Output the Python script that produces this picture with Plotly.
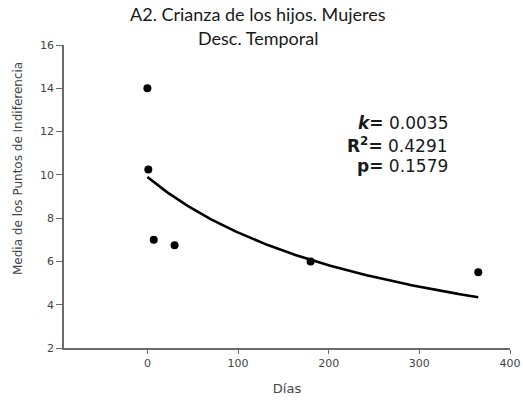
import numpy as np
import plotly.graph_objects as go

# Delay (days) and mean indifference point at each delay
dias = [0, 1, 7, 30, 180, 365]
media = [14.0, 10.25, 7.0, 6.75, 6.0, 5.5]

# Hyperbolic discounting fit: V = A / (1 + k*D)
k_fit = 0.0035
a_fit = 9.9
r2_fit = 0.4291
p_fit = 0.1579

x_ticks = [0, 100, 200, 300, 400]
y_ticks = [2, 4, 6, 8, 10, 12, 14, 16]

titulo = ["A2. Crianza de los hijos. Mujeres", "Desc. Temporal"]

d_curve = np.linspace(0, 365, 200)
v_curve = a_fit / (1 + k_fit * d_curve)

# Plot-area geometry in page pixels
PL, PR, PT, PB = 64, 510, 45, 348


def px_to_paper(xpx, ypx):
    return (xpx - PL) / (PR - PL), (PB - ypx) / (PB - PT)


axis_col = "#6a6a6a"
tick_font = dict(family="DejaVu Sans", size=11, color="#444444")

fig = go.Figure()
fig.add_trace(go.Scatter(
    x=d_curve, y=v_curve, mode="lines",
    line=dict(color="black", width=2.6), hoverinfo="skip", showlegend=False,
))
fig.add_trace(go.Scatter(
    x=dias, y=media, mode="markers",
    marker=dict(color="black", size=8), showlegend=False,
))

# Two-line title above the plot area
for line, ypx in zip(titulo, [14, 38]):
    xp, yp = px_to_paper(258, ypx)
    fig.add_annotation(
        text=line, x=xp, y=yp, xref="paper", yref="paper",
        xanchor="center", yanchor="middle", showarrow=False,
        font=dict(family="Lato", size=18, color="#1a1a1a"),
    )

# Fit statistics
stats = [
    ("<b><i>k</i>=</b> %.4f" % k_fit, 123),
    ("<b>R<sup>2</sup>=</b> %.4f" % r2_fit, 145),
    ("<b>p=</b> %.4f" % p_fit, 166),
]
for txt, ypx in stats:
    xp, yp = px_to_paper(450, ypx)
    fig.add_annotation(
        text=txt, x=xp, y=yp, xref="paper", yref="paper",
        xanchor="right", yanchor="middle", showarrow=False,
        font=dict(family="DejaVu Sans", size=17, color="#1a1a1a"),
    )

# Y-axis title
xp, yp = px_to_paper(18, 169)
fig.add_annotation(
    text="Media de los Puntos de Indiferencia", textangle=-90,
    x=xp, y=yp, xref="paper", yref="paper", xanchor="center", yanchor="middle",
    showarrow=False,
    font=dict(family="DejaVu Sans", size=12, color="#444444"),
)

fig.update_layout(
    width=523, height=402,
    margin=dict(l=PL, r=523 - PR, t=PT, b=402 - PB),
    paper_bgcolor="white", plot_bgcolor="white",
    xaxis=dict(
        range=[-92, 400], tickvals=x_ticks, ticks="outside", ticklen=4,
        tickcolor=axis_col, showline=True, linecolor=axis_col, linewidth=1.5,
        showgrid=False, zeroline=False, tickfont=tick_font,
        title=dict(text="Días", standoff=15,
                   font=dict(family="DejaVu Sans", size=13, color="#444444")),
        automargin=False,
    ),
    yaxis=dict(
        range=[2, 16], tickvals=y_ticks, ticks="outside", ticklen=6,
        tickcolor=axis_col, showline=True, linecolor=axis_col, linewidth=1.5,
        showgrid=False, zeroline=False, tickfont=tick_font,
        automargin=False,
    ),
)

fig.write_html("out.html")
